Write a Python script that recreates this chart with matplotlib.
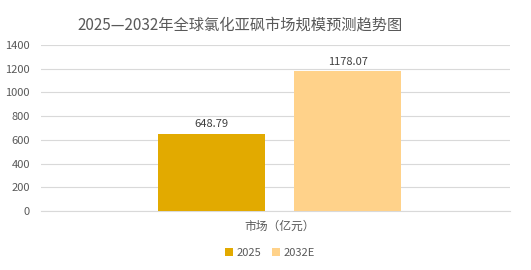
import matplotlib.pyplot as plt

plt.rcParams['font.family'] = ['Noto Sans CJK SC', 'DejaVu Sans']

series = ['2025', '2032E']
values = [648.79, 1178.07]
colors = ['#E2AA00', '#FFD28A']
category = '市场（亿元）'
yticks = [0, 200, 400, 600, 800, 1000, 1200, 1400]

fig = plt.figure(figsize=(5.31, 2.70), dpi=100)
ax = fig.add_axes([41 / 531, 1 - 211 / 270, 469 / 531, 166 / 270])

offsets = [-0.136, 0.154]
width = 0.228
for off, v, c, s in zip(offsets, values, colors, series):
    ax.bar(off, v, width=width, color=c, label=s, zorder=3)
    ax.text(off, v + 40, f'{v:.2f}', ha='center', va='bottom',
            fontsize=8, color='#404040')

ax.set_xlim(-0.5, 0.5)
ax.set_ylim(0, 1400)
ax.set_yticks(yticks)
ax.set_xticks([0.009])
ax.set_xticklabels([category])
ax.tick_params(axis='x', length=0, pad=6, labelsize=8.5, labelcolor='#595959')
ax.tick_params(axis='y', length=0, pad=8, labelsize=8, labelcolor='#595959')
ax.grid(axis='y', color='#D9D9D9', linewidth=0.8, zorder=0)
for sp in ['top', 'right', 'left']:
    ax.spines[sp].set_visible(False)
ax.spines['bottom'].set_color('#D9D9D9')
ax.spines['bottom'].set_linewidth(0.8)

fig.text(240 / 531, 1 - 25 / 270, '2025—2032年全球氯化亚砜市场规模预测趋势图',
         ha='center', va='center', fontsize=11, color='#595959')

fig.legend(loc='center', bbox_to_anchor=(270 / 531, 1 - 253 / 270), ncol=2,
           frameon=False, fontsize=8, handlelength=0.7, handleheight=0.7,
           handletextpad=0.3, columnspacing=1.0, labelcolor='#595959')

fig.savefig('out.png', dpi=100)
